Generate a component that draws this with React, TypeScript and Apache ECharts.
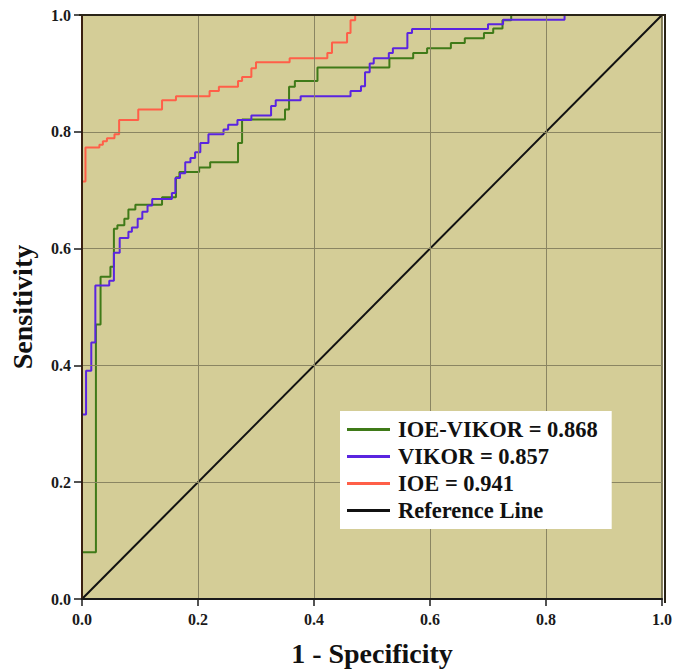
import React, { useEffect, useRef } from "react";
import * as echarts from "echarts";

// ROC corner points (1 - specificity, sensitivity), drawn as step 'end'
const IOE_VIKOR_FPR = [0, 0, 0.024, 0.032, 0.049, 0.055, 0.061, 0.073, 0.080, 0.092, 0.138, 0.162, 0.168, 0.202, 0.221, 0.269, 0.276, 0.350, 0.357, 0.367, 0.406, 0.530, 0.571, 0.595, 0.636, 0.660, 0.693, 0.709, 0.725, 0.740, 1];
const IOE_VIKOR_TPR = [0, 0.080, 0.470, 0.552, 0.569, 0.634, 0.640, 0.651, 0.667, 0.675, 0.688, 0.722, 0.731, 0.739, 0.748, 0.781, 0.821, 0.838, 0.877, 0.887, 0.910, 0.926, 0.935, 0.943, 0.952, 0.960, 0.969, 0.977, 0.991, 1.0, 1.0];

const VIKOR_FPR = [0, 0, 0.007, 0.016, 0.023, 0.047, 0.055, 0.065, 0.080, 0.086, 0.096, 0.104, 0.113, 0.121, 0.155, 0.161, 0.169, 0.178, 0.187, 0.195, 0.204, 0.218, 0.244, 0.252, 0.268, 0.292, 0.326, 0.334, 0.377, 0.463, 0.481, 0.488, 0.496, 0.503, 0.529, 0.536, 0.561, 0.569, 0.700, 0.726, 0.832, 1];
const VIKOR_TPR = [0, 0.316, 0.391, 0.439, 0.537, 0.545, 0.593, 0.618, 0.629, 0.636, 0.651, 0.663, 0.674, 0.685, 0.695, 0.721, 0.729, 0.748, 0.755, 0.765, 0.781, 0.796, 0.804, 0.812, 0.820, 0.828, 0.844, 0.854, 0.861, 0.870, 0.878, 0.902, 0.917, 0.926, 0.935, 0.943, 0.969, 0.976, 0.984, 0.992, 1.0, 1.0];

const IOE_FPR = [0, 0, 0.006, 0.030, 0.036, 0.043, 0.056, 0.064, 0.097, 0.138, 0.162, 0.220, 0.236, 0.269, 0.276, 0.292, 0.300, 0.358, 0.423, 0.431, 0.457, 0.463, 0.471, 1];
const IOE_TPR = [0, 0.715, 0.773, 0.778, 0.784, 0.789, 0.796, 0.820, 0.838, 0.854, 0.861, 0.870, 0.877, 0.887, 0.894, 0.909, 0.919, 0.926, 0.935, 0.953, 0.969, 0.991, 1.0, 1.0];

const REF_X = [0, 1];
const REF_Y = [0, 1];

const SERIES_NAMES = ["IOE-VIKOR = 0.868", "VIKOR = 0.857", "IOE = 0.941", "Reference Line"];
const AXIS_TICKS = [0, 0.2, 0.4, 0.6, 0.8, 1.0];

const zip = (xs: number[], ys: number[]) => xs.map((x, i) => [x, ys[i]]);

const FONT = "'Liberation Serif', 'DejaVu Serif', serif";

const GRID = { left: 79, top: 15, width: 586, height: 588 };

export default function App() {
  const ref = useRef<HTMLDivElement>(null);
  useEffect(() => {
    document.body.style.margin = "0";
    const chart = echarts.init(ref.current!, undefined, { renderer: "svg" });
    const lineSeries = (name: string, data: number[][], color: string, width: number, step: any) => ({
      name,
      type: "line",
      data,
      step,
      showSymbol: false,
      symbol: "none",
      lineStyle: { color, width },
      itemStyle: { color },
      z: 3,
    });
    const labelStyle = {
      fontFamily: FONT,
      fontWeight: "bold",
      fontSize: 16,
      color: "#1a1a1a",
    };
    chart.setOption({
      animation: false,
      backgroundColor: "#ffffff",
      grid: {
        ...GRID,
        show: true,
        backgroundColor: "#d4cd97",
        borderColor: "#2a2418",
        borderWidth: 1,
      },
      graphic: [
        {
          type: "polyline",
          z: 50,
          silent: true,
          shape: {
            points: [
              [GRID.left, GRID.top],
              [GRID.left + GRID.width, GRID.top],
              [GRID.left + GRID.width, GRID.top + GRID.height],
            ],
          },
          style: { fill: null, stroke: "#2a2418", lineWidth: 2 },
        },
      ],
      legend: {
        orient: "vertical",
        left: 340,
        top: 411,
        z: 60,
        data: SERIES_NAMES,
        backgroundColor: "#ffffff",
        padding: [7, 14, 7, 7],
        itemGap: 4,
        itemWidth: 43,
        itemHeight: 3,
        icon: "rect",
        textStyle: {
          fontFamily: FONT,
          fontWeight: "bold",
          fontSize: 22.5,
          color: "#111",
          lineHeight: 21,
          padding: [0, 0, 0, 3],
        },
      },
      xAxis: {
        type: "value",
        min: 0,
        max: 1,
        interval: 0.2,
        z: 40,
        name: "1 - Specificity",
        nameLocation: "middle",
        nameGap: 40,
        nameTextStyle: { fontFamily: FONT, fontWeight: "bold", fontSize: 28, color: "#111" },
        axisLine: { show: true, lineStyle: { color: "#1a1a1a", width: 2 } },
        axisTick: { show: true, length: 7, lineStyle: { color: "#1a1a1a", width: 1.5 } },
        axisLabel: {
          ...labelStyle,
          margin: 12,
          formatter: (v: number) => (AXIS_TICKS.some((t) => Math.abs(t - v) < 1e-9) ? v.toFixed(1) : ""),
        },
        splitLine: { show: true, lineStyle: { color: "#8a8562", width: 1 } },
      },
      yAxis: {
        type: "value",
        min: 0,
        max: 1,
        interval: 0.2,
        z: 40,
        name: "Sensitivity",
        nameLocation: "middle",
        nameGap: 46,
        nameRotate: 90,
        nameTextStyle: { fontFamily: FONT, fontWeight: "bold", fontSize: 28, color: "#111" },
        axisLine: { show: true, lineStyle: { color: "#3a2010", width: 2 } },
        axisTick: { show: true, length: 8, lineStyle: { color: "#1a1a1a", width: 1.5 } },
        axisLabel: {
          ...labelStyle,
          margin: 11,
          formatter: (v: number) => v.toFixed(1),
        },
        splitLine: { show: true, lineStyle: { color: "#8a8562", width: 1 } },
      },
      series: [
        lineSeries(SERIES_NAMES[0], zip(IOE_VIKOR_FPR, IOE_VIKOR_TPR), "#3f7a18", 2, "end"),
        lineSeries(SERIES_NAMES[1], zip(VIKOR_FPR, VIKOR_TPR), "#5a24e0", 2, "end"),
        lineSeries(SERIES_NAMES[2], zip(IOE_FPR, IOE_TPR), "#ff5f48", 2, "end"),
        lineSeries(SERIES_NAMES[3], zip(REF_X, REF_Y), "#111111", 2, false),
      ],
    });
    return () => chart.dispose();
  }, []);
  return (
    <div
      ref={ref}
      style={{ position: "fixed", left: 0, top: 0, width: 675, height: 672 }}
    />
  );
}
